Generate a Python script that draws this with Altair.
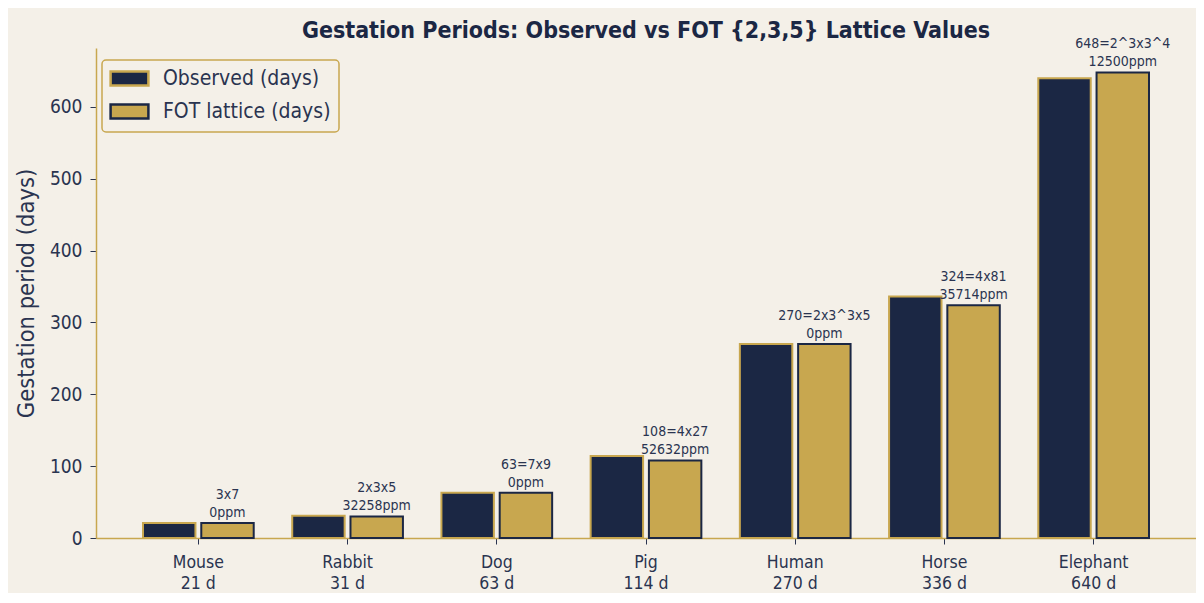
import altair as alt
import pandas as pd

animals = ["Mouse", "Rabbit", "Dog", "Pig", "Human", "Horse", "Elephant"]
observed = [21, 31, 63, 114, 270, 336, 640]
fot = [21, 30, 63, 108, 270, 324, 648]
fot_factor = ["3x7", "2x3x5", "63=7x9", "108=4x27", "270=2x3^3x5", "324=4x81", "648=2^3x3^4"]
fot_ppm = ["0ppm", "32258ppm", "0ppm", "52632ppm", "0ppm", "35714ppm", "12500ppm"]
series = ["Observed (days)", "FOT lattice (days)"]
y_ticks = [0, 100, 200, 300, 400, 500, 600]

NAVY = "#1b2744"
GOLD = "#c8a74f"
BG = "#f4f0e8"
TXT = "#2a3450"
FONT = "DejaVu Sans Condensed"

rows = []
labels = []
for a, o, f, n1, n2 in zip(animals, observed, fot, fot_factor, fot_ppm):
    lab = f"{a}|{o} d"
    labels.append(lab)
    rows.append({"label": lab, "series": series[0], "days": o, "n1": "", "n2": ""})
    rows.append({"label": lab, "series": series[1], "days": f, "n1": n1, "n2": n2})
df = pd.DataFrame(rows)

x_enc = alt.X(
    "label:N",
    sort=labels,
    scale=alt.Scale(paddingInner=0.258, paddingOuter=0.315),
    axis=alt.Axis(
        title=None,
        labelExpr="split(datum.value, '|')",
        labelAngle=0,
        labelFontSize=17.5,
        labelColor=TXT,
        labelFont=FONT,
        labelLineHeight=21,
        labelPadding=9,
        tickColor=TXT,
        tickSize=6,
        domainColor=GOLD,
        domainWidth=1.5,
    ),
)
xo_enc = alt.XOffset(
    "series:N",
    sort=series,
    scale=alt.Scale(domain=series, paddingInner=0.1, paddingOuter=0),
)
y_enc = alt.Y(
    "days:Q",
    scale=alt.Scale(domain=[0, 682], nice=False),
    axis=alt.Axis(
        title="Gestation period (days)",
        titleFontSize=23.5,
        titleFontWeight="normal",
        titleColor=TXT,
        titleFont=FONT,
        titlePadding=11,
        values=y_ticks,
        labelFontSize=19,
        labelColor=TXT,
        labelFont=FONT,
        labelPadding=8,
        tickColor=TXT,
        tickSize=6,
        domainColor=GOLD,
        domainWidth=1.5,
        grid=False,
    ),
)

legend = alt.Legend(
    title=None,
    orient="none",
    legendX=6,
    legendY=12,
    fillColor=BG,
    strokeColor=GOLD,
    cornerRadius=4,
    padding=8,
    labelFontSize=21,
    labelColor=TXT,
    labelFont=FONT,
    labelLimit=0,
    symbolType="M-2.7,-1H2.7V1H-2.7Z",
    symbolSize=196,
    symbolStrokeWidth=2.5,
    symbolOffset=9,
    labelOffset=23,
    rowPadding=8,
)

base = alt.Chart(df)

bars = base.mark_bar(strokeWidth=2).encode(
    x=x_enc,
    xOffset=xo_enc,
    y=y_enc,
    fill=alt.Fill("series:N", sort=series, scale=alt.Scale(domain=series, range=[NAVY, GOLD]), legend=legend),
    stroke=alt.Stroke("series:N", sort=series, scale=alt.Scale(domain=series, range=[GOLD, NAVY]), legend=legend),
)

fot_only = base.transform_filter(alt.datum.series == series[1])
note_top = fot_only.mark_text(
    baseline="bottom", dy=-21, fontSize=14, color=TXT, font=FONT
).encode(x=x_enc, xOffset=xo_enc, y=y_enc, text="n1:N")
note_bot = fot_only.mark_text(
    baseline="bottom", dy=-3, fontSize=14, color=TXT, font=FONT
).encode(x=x_enc, xOffset=xo_enc, y=y_enc, text="n2:N")

chart = (
    alt.layer(bars, note_top, note_bot)
    .properties(
        width=1100,
        height=490,
        padding={"left": 88, "top": 40, "right": 0, "bottom": 55},
        autosize=alt.AutoSizeParams(type="none"),
        background=BG,
        title=alt.TitleParams(
            "Gestation Periods: Observed vs FOT {2,3,5} Lattice Values",
            fontSize=23,
            fontWeight="bold",
            color=NAVY,
            font=FONT,
            anchor="middle",
            offset=8,
            dy=14,
        ),
    )
    .configure_view(stroke=None)
    .configure_legend(strokeWidth=1.5)
)

chart.save("out.html", embed_options={"renderer": "svg", "actions": False})
